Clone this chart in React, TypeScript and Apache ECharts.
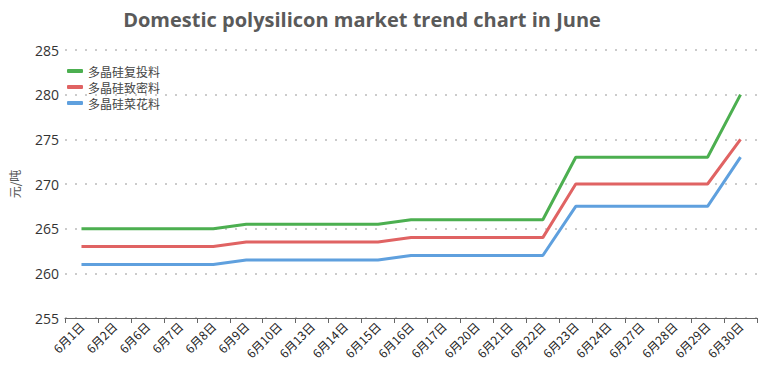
import React, { useEffect, useRef } from "react";
import * as echarts from "echarts";

const categories = ["6月1日","6月2日","6月6日","6月7日","6月8日","6月9日","6月10日","6月13日","6月14日","6月15日","6月16日","6月17日","6月20日","6月21日","6月22日","6月23日","6月24日","6月27日","6月28日","6月29日","6月30日"];
const seriesNames = ["多晶硅复投料", "多晶硅致密料", "多晶硅菜花料"];
const reinvest = [265,265,265,265,265,265.5,265.5,265.5,265.5,265.5,266,266,266,266,266,273,273,273,273,273,280];
const dense = [263,263,263,263,263,263.5,263.5,263.5,263.5,263.5,264,264,264,264,264,270,270,270,270,270,275];
const cauliflower = [261,261,261,261,261,261.5,261.5,261.5,261.5,261.5,262,262,262,262,262,267.5,267.5,267.5,267.5,267.5,273];
const colors = ["#4caf50", "#e06363", "#5fa0de"];

export default function App() {
  const ref = useRef<HTMLDivElement>(null);
  useEffect(() => {
    const chart = echarts.init(ref.current!, undefined, { renderer: "svg" });
    const data = [reinvest, dense, cauliflower];
    chart.setOption({
      animation: false,
      color: colors,
      title: {
        text: "Domestic polysilicon market trend chart in June",
        left: 357,
        textAlign: "center",
        top: 4,
        textStyle: { fontFamily: "Open Sans", fontSize: 20, fontWeight: "bold", color: "#5a5a5a" },
      },
      legend: {
        orient: "vertical",
        left: 62,
        top: 60,
        itemWidth: 16,
        itemHeight: 4,
        itemGap: 4,
        icon: "roundRect",
        textStyle: { fontSize: 12, color: "#444", fontFamily: "Noto Sans CJK SC" },
        data: seriesNames,
      },
      grid: { left: 48, right: 3, top: 50, bottom: 54 },
      xAxis: {
        type: "category",
        data: categories,
        boundaryGap: true,
        axisLine: { lineStyle: { color: "#666", width: 1 } },
        axisTick: { show: true, lineStyle: { color: "#666" } },
        axisLabel: { rotate: 45, fontSize: 12, color: "#222", interval: 0, margin: 6, fontFamily: "Noto Sans CJK SC" },
      },
      yAxis: {
        type: "value",
        min: 255,
        max: 285,
        interval: 5,
        name: "元/吨",
        nameLocation: "middle",
        nameGap: 45,
        nameTextStyle: { fontSize: 12, color: "#555", fontFamily: "Noto Sans CJK SC" },
        axisLine: { show: false },
        axisTick: { show: false },
        axisLabel: { fontSize: 14, color: "#333", margin: 6, fontFamily: "Open Sans" },
        splitLine: { lineStyle: { type: [2, 8], color: "#bbb", width: 1.5 } },
      },
      series: seriesNames.map((n, i) => ({
        name: n,
        type: "line",
        data: data[i],
        symbol: "none",
        lineStyle: { width: 3, color: colors[i] },
        itemStyle: { color: colors[i] },
      })),
    });
    return () => chart.dispose();
  }, []);
  return <div ref={ref} style={{ width: 760, height: 372, position: "absolute", left: 0, top: 0 }} />;
}
